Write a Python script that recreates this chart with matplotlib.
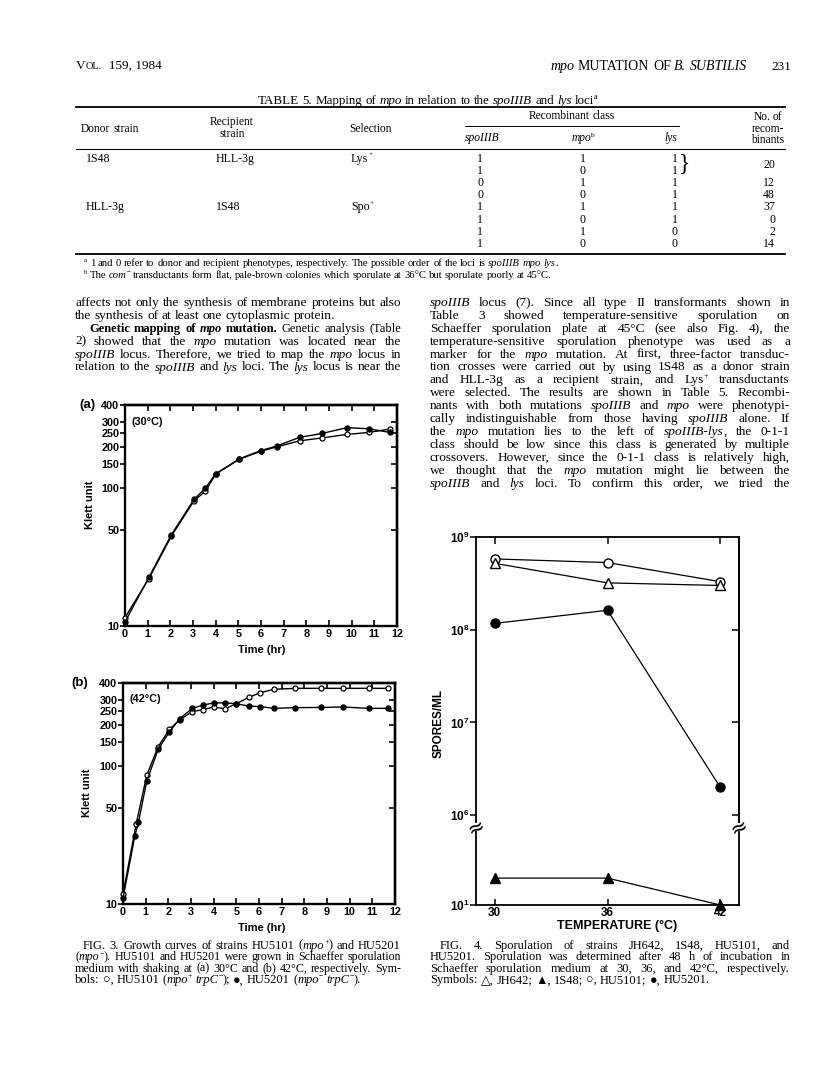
import re
import matplotlib
matplotlib.use("Agg")
import matplotlib.pyplot as plt
from matplotlib.lines import Line2D

# ---- data ----
# Fig. 3(a) 30C growth, Klett units
t_a = [0, 1.05, 2.05, 3.05, 3.55, 4.0, 5.05, 6.0, 6.7, 7.7, 8.7, 9.8, 10.75, 11.7]
hu5101_a = [11.5, 22, 45, 81, 95, 126, 162, 185, 199, 220, 231, 245, 253, 268]
hu5201_a = [10.7, 22.5, 46, 83, 100, 127, 163, 187, 202, 233, 249, 274, 269, 253]

# Fig. 3(b) 42C growth
t_b_open = [0, 0.58, 1.05, 1.55, 2.05, 2.5, 3.05, 3.55, 4.0, 4.5, 5.0, 5.55, 6.05, 6.65, 7.6, 8.75, 9.7, 10.85, 11.7]
hu5101_b = [11.8, 38, 86, 138, 185, 216, 248, 257, 268, 260, 283, 315, 340, 360, 366, 366, 366, 366, 366]
t_b_fill = [0, 0.52, 0.68, 1.05, 1.55, 2.05, 2.5, 3.05, 3.55, 4.0, 4.5, 5.0, 5.55, 6.05, 6.65, 7.6, 8.75, 9.7, 10.85, 11.7]
hu5201_b = [11.0, 31, 39, 78, 132, 177, 220, 262, 277, 287, 287, 283, 272, 270, 262, 265, 266, 268, 262, 262]

klett_ticks = [10, 50, 100, 150, 200, 250, 300, 400]
hour_ticks = list(range(13))

# Fig. 4 spores/ml
temps = [30, 36, 42]
jh642 = [5.2e8, 3.2e8, 3.0e8]
s1s48 = [19.5, 19.5, 10]
hu5101 = [5.8e8, 5.3e8, 3.3e8]
hu5201 = [1.17e8, 1.62e8, 2.0e6]
spore_ticks = [1e6, 1e7, 1e8, 1e9]
spore_labels = ['$10^{6}$', '$10^{7}$', '$10^{8}$', '$10^{9}$']

# Table 5
donors = ['1S48', '', '', '', 'HLL-3g', '', '', '']
recipients = ['HLL-3g', '', '', '', '1S48', '', '', '']
selections = ['Lys^+^', '', '', '', 'Spo^+^', '', '', '']
class_spo = [1, 1, 0, 0, 1, 1, 1, 1]
class_mpo = [1, 0, 1, 0, 1, 0, 1, 0]
class_lys = [1, 1, 1, 1, 1, 1, 0, 0]
n_recomb = ['', '', '12', '48', '37', '0', '2', '14']

left_col = [
    ("affects not only the synthesis of membrane proteins but also", True, 0),
    ("the synthesis of at least one cytoplasmic protein.", False, 0),
    ("*Genetic* *mapping* *of* ~mpo~ *mutation.* Genetic analysis (Table", True, 14),
    ("2) showed that the _mpo_ mutation was located near the", True, 0),
    ("_spoIIIB_ locus. Therefore, we tried to map the _mpo_ locus in", True, 0),
    ("relation to the _spoIIIB_ and _lys_ loci. The _lys_ locus is near the", True, 0),
]
right_col = [
    "_spoIIIB_ locus (7). Since all type II transformants shown in",
    "Table 3 showed temperature-sensitive sporulation on",
    "Schaeffer sporulation plate at 45°C (see also Fig. 4), the",
    "temperature-sensitive sporulation phenotype was used as a",
    "marker for the _mpo_ mutation. At first, three-factor transduc-",
    "tion crosses were carried out by using 1S48 as a donor strain",
    "and HLL-3g as a recipient strain, and Lys^+^ transductants",
    "were selected. The results are shown in Table 5. Recombi-",
    "nants with both mutations _spoIIIB_ and _mpo_ were phenotypi-",
    "cally indistinguishable from those having _spoIIIB_ alone. If",
    "the _mpo_ mutation lies to the left of _spoIIIB-lys_, the 0-1-1",
    "class should be low since this class is generated by multiple",
    "crossovers. However, since the 0-1-1 class is relatively high,",
    "we thought that the _mpo_ mutation might lie between the",
    "_spoIIIB_ and _lys_ loci. To confirm this order, we tried the",
]
fig3_caption = [
    ("FIG. 3. Growth curves of strains HU5101 (_mpo_^+^) and HU5201", True, 8),
    ("(_mpo_^−^). HU5101 and HU5201 were grown in Schaeffer sporulation", True, 0),
    ("medium with shaking at (a) 30°C and (b) 42°C, respectively. Sym-", True, 0),
    ("bols: ○, HU5101 (_mpo_^+^ _trpC_^−^); ●, HU5201 (_mpo_^−^ _trpC_^−^).", False, 0),
]
fig4_caption = [
    ("FIG. 4. Sporulation of strains JH642, 1S48, HU5101, and", True, 10),
    ("HU5201. Sporulation was determined after 48 h of incubation in", True, 0),
    ("Schaeffer sporulation medium at 30, 36, and 42°C, respectively.", True, 0),
    ("Symbols: △, JH642; ▲, 1S48; ○, HU5101; ●, HU5201.", False, 0),
]
footnotes = [
    "^a^ 1 and 0 refer to donor and recipient phenotypes, respectively. The possible order of the loci is _spoIIIB_ _mpo_ _lys_.",
    "^b^ The _com_^−^ transductants form flat, pale-brown colonies which sporulate at 36°C but sporulate poorly at 45°C.",
]

plt.rcParams['font.family'] = ['Liberation Sans', 'DejaVu Sans']
plt.rcParams['font.weight'] = 'bold'
plt.rcParams['mathtext.fontset'] = 'custom'
plt.rcParams['mathtext.rm'] = 'Liberation Sans:bold'
plt.rcParams['mathtext.it'] = 'Liberation Sans:bold'
plt.rcParams['mathtext.bf'] = 'Liberation Sans:bold'

W, H = 816, 1066
fig = plt.figure(figsize=(W / 100, H / 100), dpi=100)
rend = fig.canvas.get_renderer()
SERIF = ['Liberation Serif', 'DejaVu Serif', 'DejaVu Sans']
TOKEN = re.compile(r'_[^_]+_|\*[^*]+\*|~[^~]+~|\^[^^]+\^|[^_*~^]+')
_wcache = {}


def width(s, size, style='normal', weight='normal'):
    key = (s, size, style, weight)
    if key not in _wcache:
        t = fig.text(0, 0, s, fontsize=size, family=SERIF, style=style, weight=weight)
        _wcache[key] = t.get_window_extent(rend).width
        t.remove()
    return _wcache[key]


def segs(tok):
    out = []
    for p in TOKEN.findall(tok):
        if p[0] == '_':
            out.append((p[1:-1], 'italic', 'normal', False))
        elif p[0] == '*':
            out.append((p[1:-1], 'normal', 'bold', False))
        elif p[0] == '~':
            out.append((p[1:-1], 'italic', 'bold', False))
        elif p[0] == '^':
            out.append((p[1:-1], 'normal', 'normal', True))
        else:
            out.append((p, 'normal', 'normal', False))
    return out


def measure(text, size):
    words = []
    for tok in text.split():
        parts = []
        for s, st, wt, sup in segs(tok):
            sz = size * 0.62 if sup else size
            parts.append((s, st, wt, sup, sz, width(s, sz, st, wt)))
        words.append(parts)
    wsum = sum(p[5] for wd in words for p in wd)
    space = width('n n', size) - width('nn', size)
    return words, wsum, space


def line(text, x0, y, size, x1=None, ha='left', indent=0, maxw=None):
    # y is the visual middle of the line in page pixels
    words, wsum, space = measure(text, size)
    avail = (x1 - x0 - indent) if x1 is not None else maxw
    natural = wsum + space * (len(words) - 1)
    if avail is not None and natural > avail:
        size = size * avail / natural * 0.985
        words, wsum, space = measure(text, size)
    x = x0 + indent
    if x1 is not None and len(words) > 1:
        gap = (x1 - x - wsum) / (len(words) - 1)
    else:
        gap = space
        total = wsum + space * (len(words) - 1)
        if ha == 'center':
            x = x0 - total / 2
        elif ha == 'right':
            x = x0 - total
    em = size * 100 / 72
    base = y + 0.3 * em
    for wd in words:
        for s, st, wt, sup, sz, w in wd:
            yy = base - (0.38 * em if sup else 0)
            fig.text(x / W, 1 - yy / H, s, fontsize=sz, family=SERIF, style=st,
                     weight=wt, va='baseline', ha='left')
            x += w
        x += gap


def hrule(x0, x1, y, lw):
    fig.add_artist(Line2D([x0 / W, x1 / W], [1 - y / H, 1 - y / H], color='black', lw=lw))


def axes_px(x0, y0, x1, y1):
    return fig.add_axes([x0 / W, 1 - y1 / H, (x1 - x0) / W, (y1 - y0) / H])


def sans(x, y, s, size, **kw):
    fig.text(x / W, 1 - y / H, s, fontsize=size, weight='bold', va='center', **kw)


# ---- running head ----
x = 76
for s, sz in [('V', 9.5), ('OL.', 7.5), ('  159, 1984', 9.5)]:
    fig.text(x / W, 1 - 69 / H, s, fontsize=sz, family=SERIF, weight='normal', va='baseline')
    x += width(s, sz)
line("_mpo_ MUTATION OF _B._ _SUBTILIS_", 747, 66, 10, ha='right')
line("231", 791, 66, 9.5, ha='right')

# ---- Table 5 ----
line("TABLE 5. Mapping of _mpo_ in relation to the _spoIIIB_ and _lys_ loci^a^", 428, 100, 9.4, ha='center')
hrule(76, 785, 107, 1.3)
line("Donor strain", 81, 129, 8.3)
line("Recipient", 232, 122, 8.3, ha='center')
line("strain", 232, 133.5, 8.3, ha='center')
line("Selection", 371, 129, 8.3, ha='center')
line("Recombinant class", 572, 116, 8.3, ha='center')
hrule(465, 679, 126, 0.7)
line("_spoIIIB_", 482, 138, 8.3, ha='center')
line("_mpo_^b^", 583, 138, 8.3, ha='center')
line("_lys_", 671, 138, 8.3, ha='center')
for s, yy in [("No. of", 117), ("recom-", 128.5), ("binants", 140)]:
    line(s, 768, yy, 8.3, ha='center')
hrule(76, 785, 149, 0.8)
for i in range(len(class_spo)):
    yy = 158 + 12.2 * i
    if donors[i]:
        line(donors[i], 86, yy, 8.6)
        line(recipients[i], 216, yy, 8.6)
        line(selections[i], 351, yy, 8.6)
    line(str(class_spo[i]), 480, yy, 8.6, ha='center')
    line(str(class_mpo[i]), 583, yy, 8.6, ha='center')
    line(str(class_lys[i]), 675, yy, 8.6, ha='center')
    if n_recomb[i]:
        line(n_recomb[i], 775, yy, 8.6, ha='right')
line("20", 775, 164, 8.6, ha='right')
fig.text(679 / W, 1 - 164 / H, '}', fontsize=17, family=SERIF, weight='light', va='center')
hrule(76, 785, 254, 1.3)
line(footnotes[0], 84, 263, 7.7)
line(footnotes[1], 84, 275, 7.7)

# ---- body text ----
for i, (s, just, ind) in enumerate(left_col):
    line(s, 75, 302 + 12.9 * i, 9.6, x1=401 if just else None, indent=ind, maxw=326)
for i, s in enumerate(right_col):
    line(s, 430, 302 + 12.9 * i, 9.6, x1=790)

# ---- Fig. 3 growth curves ----
def growth(box, t_open, v_open, t_fill, v_fill):
    ax = axes_px(*box)
    ax.set_yscale('log')
    ax.plot(t_open, v_open, '-', color='black', lw=1.0, marker='o', ms=3.6,
            mfc='white', mec='black', mew=0.9, clip_on=False, zorder=3)
    ax.plot(t_fill, v_fill, '-', color='black', lw=1.0, marker='o', ms=3.6,
            mfc='black', mec='black', clip_on=False, zorder=3)
    ax.set_xlim(0, 12)
    ax.set_ylim(10, 400)
    ax.set_yticks(klett_ticks, labels=[str(v) for v in klett_ticks])
    ax.minorticks_off()
    ax.set_xticks(hour_ticks, labels=[str(v) for v in hour_ticks])
    ax.tick_params(axis='y', direction='out', length=3.5, width=1.2, pad=0.5, labelsize=7.8)
    ax.tick_params(axis='x', direction='in', length=4, width=1.2, pad=2.5, labelsize=7.8)
    for sp in ax.spines.values():
        sp.set_linewidth(1.7)
    top = ax.secondary_xaxis('top')
    top.set_xticks(hour_ticks, labels=[])
    top.tick_params(direction='in', length=4, width=1.2)
    right = ax.secondary_yaxis('right')
    right.set_yticks(klett_ticks[1:-1], labels=[])
    right.minorticks_off()
    right.tick_params(direction='in', length=4, width=1.2)
    for sec in (top, right):
        for sp in sec.spines.values():
            sp.set_linewidth(1.7)
    return ax


growth((125, 405, 397, 626), t_a, hu5101_a, t_a, hu5201_a)
sans(87, 405, '(a)', 9.5, ha='center')
sans(132, 422, '(30°C)', 7.8, ha='left')
sans(262, 650, 'Time (hr)', 8, ha='center')
sans(90, 505, 'Klett unit', 8, ha='center', rotation=90)

growth((123, 683, 395, 904), t_b_open, hu5101_b, t_b_fill, hu5201_b)
sans(80, 683, '(b)', 9.5, ha='center')
sans(130, 699, '(42°C)', 7.8, ha='left')
sans(262, 928, 'Time (hr)', 8, ha='center')
sans(87, 793, 'Klett unit', 8, ha='center', rotation=90)

# ---- Fig. 4 sporulation, broken log axis ----
up = axes_px(476, 537, 739, 822)
lo = axes_px(476, 832, 739, 905)
for a in (up, lo):
    a.set_yscale('log')
    a.set_xlim(29, 43)
    for sp in a.spines.values():
        sp.set_linewidth(1.3)
up.set_ylim(10 ** 5.926, 1e9)
lo.set_ylim(10, 10 ** 1.787)
up.spines['bottom'].set_visible(False)
lo.spines['top'].set_visible(False)

mk = dict(color='black', lw=0.9, ms=6.5, mec='black', mew=1.0, clip_on=False, zorder=3)
up.plot(temps, hu5101, marker='o', mfc='white', **mk)
up.plot(temps, jh642, marker='^', mfc='white', **mk)
up.plot(temps, hu5201, marker='o', mfc='black', **mk)
lo.plot(temps, s1s48, marker='^', mfc='black', **mk)

up.set_yticks(spore_ticks, labels=spore_labels)
up.minorticks_off()
up.set_xticks(temps, labels=[])
up.tick_params(axis='x', top=True, bottom=False, direction='in', length=5, width=1.1)
up.tick_params(axis='y', direction='out', length=4, width=1.1, pad=1, labelsize=8.5)
r4 = up.secondary_yaxis('right')
r4.set_yticks(spore_ticks[:-1], labels=[])
r4.minorticks_off()
r4.tick_params(direction='in', length=5, width=1.1)
for sp in r4.spines.values():
    sp.set_linewidth(1.3)

lo.set_yticks([10], labels=['$10^{1}$'])
lo.minorticks_off()
lo.set_xticks(temps, labels=[str(v) for v in temps])
lo.tick_params(axis='x', direction='in', length=4, width=1.1, pad=1.5, labelsize=8.5)
lo.tick_params(axis='y', direction='out', length=4, width=1.1, pad=1, labelsize=8.5)

for xb in (476, 739):
    fig.text(xb / W, 1 - 827 / H, '≈', fontsize=15, family=['DejaVu Sans'], weight='normal',
             rotation=25, ha='center', va='center')
sans(439, 723, 'SPORES/ML', 8.5, ha='center', rotation=90)
sans(617, 926, 'TEMPERATURE (°C)', 9, ha='center')

# ---- captions ----
for i, (s, just, ind) in enumerate(fig3_caption):
    line(s, 75, 945 + 11.5 * i, 9, x1=401 if just else None, indent=ind, maxw=326)
for i, (s, just, ind) in enumerate(fig4_caption):
    line(s, 430, 945 + 11.5 * i, 9, x1=790 if just else None, indent=ind, maxw=360)

fig.savefig('out.png', dpi=100, facecolor='white')
